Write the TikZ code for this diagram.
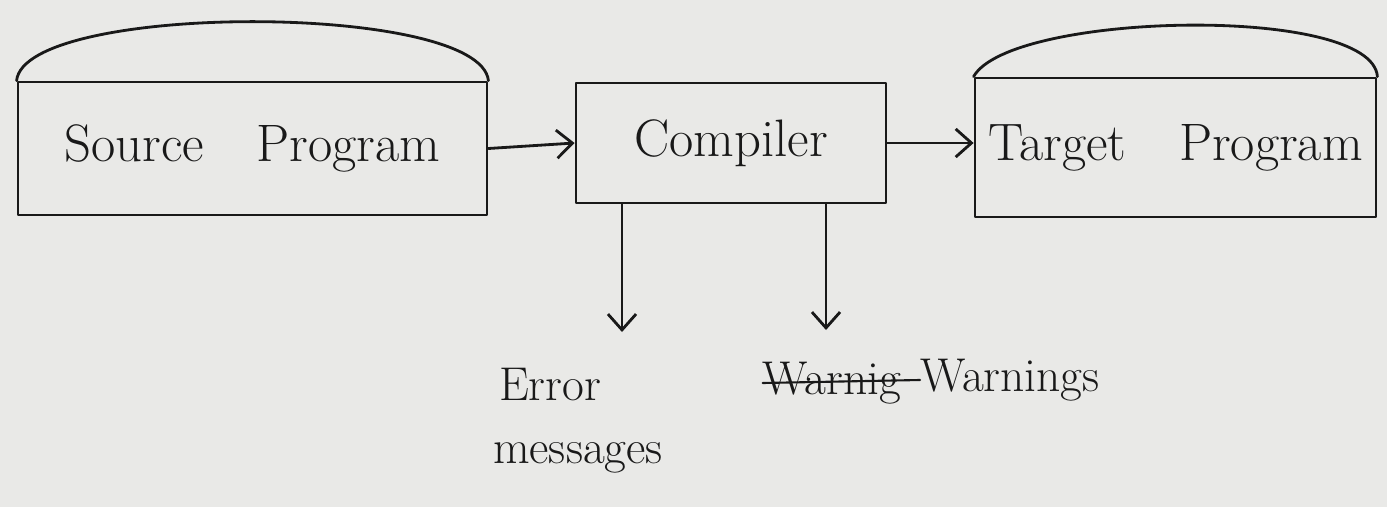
\documentclass[tikz,border=0pt]{standalone}
\usetikzlibrary{arrows.meta}
\definecolor{paper}{RGB}{233,233,231}
\definecolor{ink}{RGB}{25,25,25}
\tikzset{
  x=0.02cm, y=-0.02cm,
  pen/.style={draw=ink, line width=1.6pt, line cap=round, line join=round},
  boxnode/.style={pen, rectangle, inner sep=0pt, font=\fontsize{30}{36}\selectfont, text=ink},
  lbl/.style={inner sep=0pt, font=\fontsize{27}{32}\selectfont, text=ink},
  flow/.style={pen, -{Straight Barb[length=9pt,width=16pt,line width=1.6pt]}}
}
\begin{document}
\begin{tikzpicture}
\fill[paper] (0,0) rectangle (1387,507);
\useasboundingbox (0,0) rectangle (1387,507);

% boxes
\node[boxnode, minimum width=0.02cm*469, minimum height=0.02cm*133] (src) at (252.5,148.5) {Source\quad Program};
\node[boxnode, minimum width=0.02cm*310, minimum height=0.02cm*120] (cmp) at (731,143) {Compiler};
\node[boxnode, minimum width=0.02cm*401, minimum height=0.02cm*139] (tgt) at (1175.5,147.5) {Target\quad Program};

% dome lids
\draw[pen] (src.north west) .. controls (25,2) and (480,2) .. (src.north east);
\draw[pen] (tgt.north west) .. controls (1010,12) and (1372,4) .. (tgt.north east);

% outputs
\node[lbl] (err) at (550,385) {Error};
\node[lbl] (msg) at (578,458) {messages};
\node[lbl] (wold) at (832,383) {Warnig};
\node[lbl] (warn) at (1010,380) {Warnings};
\draw[pen, line width=1.2pt] (wold.west) -- (warn.west);

\coordinate (errtip) at (622,332);
\coordinate (warntip) at (826,330);

% connectors
\draw[flow] (src.east) -- (cmp.west);
\draw[flow] (cmp.east) -- (tgt.west |- cmp.east);
\draw[flow] (cmp.south -| errtip) -- (errtip);
\draw[flow] (cmp.south -| warntip) -- (warntip);
\end{tikzpicture}
\end{document}
